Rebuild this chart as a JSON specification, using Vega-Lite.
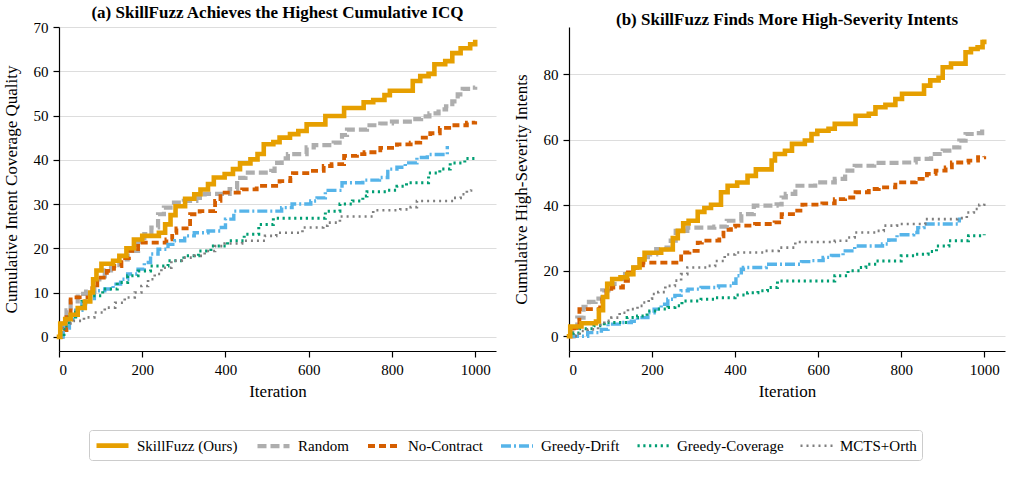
{
  "$schema": "https://vega.github.io/schema/vega-lite/v6.json",
  "padding": {"left": 2, "right": 2, "top": 4, "bottom": 0},
  "background": "#ffffff",
  "data": {
    "values": [
      {"panel": "a", "method": "SkillFuzz (Ours)", "iteration": 0, "value": 0},
      {"panel": "a", "method": "SkillFuzz (Ours)", "iteration": 3, "value": 3},
      {"panel": "a", "method": "SkillFuzz (Ours)", "iteration": 15, "value": 4},
      {"panel": "a", "method": "SkillFuzz (Ours)", "iteration": 28, "value": 5},
      {"panel": "a", "method": "SkillFuzz (Ours)", "iteration": 45, "value": 6.5},
      {"panel": "a", "method": "SkillFuzz (Ours)", "iteration": 62, "value": 8},
      {"panel": "a", "method": "SkillFuzz (Ours)", "iteration": 75, "value": 10},
      {"panel": "a", "method": "SkillFuzz (Ours)", "iteration": 82, "value": 13},
      {"panel": "a", "method": "SkillFuzz (Ours)", "iteration": 90, "value": 15},
      {"panel": "a", "method": "SkillFuzz (Ours)", "iteration": 102, "value": 16.5},
      {"panel": "a", "method": "SkillFuzz (Ours)", "iteration": 130, "value": 17.2},
      {"panel": "a", "method": "SkillFuzz (Ours)", "iteration": 145, "value": 18.3},
      {"panel": "a", "method": "SkillFuzz (Ours)", "iteration": 162, "value": 20},
      {"panel": "a", "method": "SkillFuzz (Ours)", "iteration": 180, "value": 22},
      {"panel": "a", "method": "SkillFuzz (Ours)", "iteration": 200, "value": 22.8},
      {"panel": "a", "method": "SkillFuzz (Ours)", "iteration": 240, "value": 23.5},
      {"panel": "a", "method": "SkillFuzz (Ours)", "iteration": 255, "value": 25.4},
      {"panel": "a", "method": "SkillFuzz (Ours)", "iteration": 268, "value": 27.5},
      {"panel": "a", "method": "SkillFuzz (Ours)", "iteration": 280, "value": 29.5},
      {"panel": "a", "method": "SkillFuzz (Ours)", "iteration": 303, "value": 31.2},
      {"panel": "a", "method": "SkillFuzz (Ours)", "iteration": 325, "value": 32.2},
      {"panel": "a", "method": "SkillFuzz (Ours)", "iteration": 340, "value": 33.3},
      {"panel": "a", "method": "SkillFuzz (Ours)", "iteration": 358, "value": 34.5},
      {"panel": "a", "method": "SkillFuzz (Ours)", "iteration": 372, "value": 36},
      {"panel": "a", "method": "SkillFuzz (Ours)", "iteration": 398, "value": 36.8},
      {"panel": "a", "method": "SkillFuzz (Ours)", "iteration": 418, "value": 37.9},
      {"panel": "a", "method": "SkillFuzz (Ours)", "iteration": 435, "value": 39.2},
      {"panel": "a", "method": "SkillFuzz (Ours)", "iteration": 460, "value": 40.1},
      {"panel": "a", "method": "SkillFuzz (Ours)", "iteration": 477, "value": 41.3},
      {"panel": "a", "method": "SkillFuzz (Ours)", "iteration": 492, "value": 43.5},
      {"panel": "a", "method": "SkillFuzz (Ours)", "iteration": 515, "value": 44},
      {"panel": "a", "method": "SkillFuzz (Ours)", "iteration": 530, "value": 45},
      {"panel": "a", "method": "SkillFuzz (Ours)", "iteration": 555, "value": 45.8},
      {"panel": "a", "method": "SkillFuzz (Ours)", "iteration": 575, "value": 46.5},
      {"panel": "a", "method": "SkillFuzz (Ours)", "iteration": 595, "value": 48},
      {"panel": "a", "method": "SkillFuzz (Ours)", "iteration": 640, "value": 49.9},
      {"panel": "a", "method": "SkillFuzz (Ours)", "iteration": 685, "value": 51.7},
      {"panel": "a", "method": "SkillFuzz (Ours)", "iteration": 732, "value": 53},
      {"panel": "a", "method": "SkillFuzz (Ours)", "iteration": 755, "value": 53.5},
      {"panel": "a", "method": "SkillFuzz (Ours)", "iteration": 782, "value": 54.6},
      {"panel": "a", "method": "SkillFuzz (Ours)", "iteration": 795, "value": 55.6},
      {"panel": "a", "method": "SkillFuzz (Ours)", "iteration": 850, "value": 57.8},
      {"panel": "a", "method": "SkillFuzz (Ours)", "iteration": 868, "value": 58.9},
      {"panel": "a", "method": "SkillFuzz (Ours)", "iteration": 888, "value": 59.4},
      {"panel": "a", "method": "SkillFuzz (Ours)", "iteration": 902, "value": 61.6},
      {"panel": "a", "method": "SkillFuzz (Ours)", "iteration": 928, "value": 62.3},
      {"panel": "a", "method": "SkillFuzz (Ours)", "iteration": 945, "value": 64.1},
      {"panel": "a", "method": "SkillFuzz (Ours)", "iteration": 965, "value": 65.2},
      {"panel": "a", "method": "SkillFuzz (Ours)", "iteration": 988, "value": 66.1},
      {"panel": "a", "method": "SkillFuzz (Ours)", "iteration": 1000, "value": 66.6},

      {"panel": "a", "method": "Random", "iteration": 0, "value": 0},
      {"panel": "a", "method": "Random", "iteration": 8, "value": 3},
      {"panel": "a", "method": "Random", "iteration": 18, "value": 6},
      {"panel": "a", "method": "Random", "iteration": 28, "value": 8},
      {"panel": "a", "method": "Random", "iteration": 45, "value": 9.7},
      {"panel": "a", "method": "Random", "iteration": 65, "value": 10.2},
      {"panel": "a", "method": "Random", "iteration": 85, "value": 13},
      {"panel": "a", "method": "Random", "iteration": 110, "value": 15},
      {"panel": "a", "method": "Random", "iteration": 125, "value": 15.6},
      {"panel": "a", "method": "Random", "iteration": 145, "value": 17.5},
      {"panel": "a", "method": "Random", "iteration": 165, "value": 19.4},
      {"panel": "a", "method": "Random", "iteration": 190, "value": 21.5},
      {"panel": "a", "method": "Random", "iteration": 205, "value": 23.2},
      {"panel": "a", "method": "Random", "iteration": 222, "value": 24.7},
      {"panel": "a", "method": "Random", "iteration": 238, "value": 27.7},
      {"panel": "a", "method": "Random", "iteration": 252, "value": 29.2},
      {"panel": "a", "method": "Random", "iteration": 268, "value": 30.3},
      {"panel": "a", "method": "Random", "iteration": 300, "value": 30.7},
      {"panel": "a", "method": "Random", "iteration": 330, "value": 31.4},
      {"panel": "a", "method": "Random", "iteration": 350, "value": 32.3},
      {"panel": "a", "method": "Random", "iteration": 410, "value": 33.4},
      {"panel": "a", "method": "Random", "iteration": 428, "value": 35.9},
      {"panel": "a", "method": "Random", "iteration": 448, "value": 37.1},
      {"panel": "a", "method": "Random", "iteration": 510, "value": 37.5},
      {"panel": "a", "method": "Random", "iteration": 518, "value": 39.3},
      {"panel": "a", "method": "Random", "iteration": 535, "value": 40.3},
      {"panel": "a", "method": "Random", "iteration": 550, "value": 41.3},
      {"panel": "a", "method": "Random", "iteration": 595, "value": 42.8},
      {"panel": "a", "method": "Random", "iteration": 612, "value": 43.3},
      {"panel": "a", "method": "Random", "iteration": 660, "value": 43.9},
      {"panel": "a", "method": "Random", "iteration": 680, "value": 45.6},
      {"panel": "a", "method": "Random", "iteration": 692, "value": 46.8},
      {"panel": "a", "method": "Random", "iteration": 740, "value": 47.8},
      {"panel": "a", "method": "Random", "iteration": 772, "value": 48.2},
      {"panel": "a", "method": "Random", "iteration": 800, "value": 48.6},
      {"panel": "a", "method": "Random", "iteration": 850, "value": 49.2},
      {"panel": "a", "method": "Random", "iteration": 870, "value": 49.8},
      {"panel": "a", "method": "Random", "iteration": 890, "value": 50.5},
      {"panel": "a", "method": "Random", "iteration": 912, "value": 51.4},
      {"panel": "a", "method": "Random", "iteration": 930, "value": 52.1},
      {"panel": "a", "method": "Random", "iteration": 945, "value": 53.2},
      {"panel": "a", "method": "Random", "iteration": 958, "value": 54.8},
      {"panel": "a", "method": "Random", "iteration": 970, "value": 56},
      {"panel": "a", "method": "Random", "iteration": 990, "value": 56.3},
      {"panel": "a", "method": "Random", "iteration": 1000, "value": 56.5},

      {"panel": "a", "method": "No-Contract", "iteration": 0, "value": 0},
      {"panel": "a", "method": "No-Contract", "iteration": 5, "value": 1.5},
      {"panel": "a", "method": "No-Contract", "iteration": 18, "value": 5},
      {"panel": "a", "method": "No-Contract", "iteration": 28, "value": 8.9},
      {"panel": "a", "method": "No-Contract", "iteration": 75, "value": 9.5},
      {"panel": "a", "method": "No-Contract", "iteration": 80, "value": 11},
      {"panel": "a", "method": "No-Contract", "iteration": 92, "value": 13.4},
      {"panel": "a", "method": "No-Contract", "iteration": 115, "value": 14.9},
      {"panel": "a", "method": "No-Contract", "iteration": 132, "value": 16},
      {"panel": "a", "method": "No-Contract", "iteration": 150, "value": 17.8},
      {"panel": "a", "method": "No-Contract", "iteration": 168, "value": 19.4},
      {"panel": "a", "method": "No-Contract", "iteration": 190, "value": 21.3},
      {"panel": "a", "method": "No-Contract", "iteration": 258, "value": 22},
      {"panel": "a", "method": "No-Contract", "iteration": 272, "value": 23.5},
      {"panel": "a", "method": "No-Contract", "iteration": 282, "value": 24.5},
      {"panel": "a", "method": "No-Contract", "iteration": 315, "value": 27.7},
      {"panel": "a", "method": "No-Contract", "iteration": 338, "value": 28.4},
      {"panel": "a", "method": "No-Contract", "iteration": 375, "value": 30.7},
      {"panel": "a", "method": "No-Contract", "iteration": 388, "value": 31.8},
      {"panel": "a", "method": "No-Contract", "iteration": 398, "value": 32.6},
      {"panel": "a", "method": "No-Contract", "iteration": 440, "value": 33.3},
      {"panel": "a", "method": "No-Contract", "iteration": 475, "value": 34.1},
      {"panel": "a", "method": "No-Contract", "iteration": 530, "value": 35.2},
      {"panel": "a", "method": "No-Contract", "iteration": 556, "value": 35.9},
      {"panel": "a", "method": "No-Contract", "iteration": 562, "value": 37},
      {"panel": "a", "method": "No-Contract", "iteration": 604, "value": 37.5},
      {"panel": "a", "method": "No-Contract", "iteration": 636, "value": 38.6},
      {"panel": "a", "method": "No-Contract", "iteration": 655, "value": 39},
      {"panel": "a", "method": "No-Contract", "iteration": 685, "value": 40.9},
      {"panel": "a", "method": "No-Contract", "iteration": 716, "value": 41.3},
      {"panel": "a", "method": "No-Contract", "iteration": 734, "value": 41.7},
      {"panel": "a", "method": "No-Contract", "iteration": 772, "value": 42.7},
      {"panel": "a", "method": "No-Contract", "iteration": 812, "value": 43.5},
      {"panel": "a", "method": "No-Contract", "iteration": 845, "value": 43.9},
      {"panel": "a", "method": "No-Contract", "iteration": 868, "value": 45},
      {"panel": "a", "method": "No-Contract", "iteration": 892, "value": 46},
      {"panel": "a", "method": "No-Contract", "iteration": 915, "value": 47.2},
      {"panel": "a", "method": "No-Contract", "iteration": 950, "value": 47.8},
      {"panel": "a", "method": "No-Contract", "iteration": 980, "value": 48.4},
      {"panel": "a", "method": "No-Contract", "iteration": 1000, "value": 48.7},

      {"panel": "a", "method": "Greedy-Drift", "iteration": 0, "value": 0},
      {"panel": "a", "method": "Greedy-Drift", "iteration": 10, "value": 2},
      {"panel": "a", "method": "Greedy-Drift", "iteration": 25, "value": 4},
      {"panel": "a", "method": "Greedy-Drift", "iteration": 40, "value": 6},
      {"panel": "a", "method": "Greedy-Drift", "iteration": 55, "value": 7.5},
      {"panel": "a", "method": "Greedy-Drift", "iteration": 64, "value": 8.1},
      {"panel": "a", "method": "Greedy-Drift", "iteration": 85, "value": 10.4},
      {"panel": "a", "method": "Greedy-Drift", "iteration": 110, "value": 10.8},
      {"panel": "a", "method": "Greedy-Drift", "iteration": 130, "value": 11.9},
      {"panel": "a", "method": "Greedy-Drift", "iteration": 148, "value": 13},
      {"panel": "a", "method": "Greedy-Drift", "iteration": 165, "value": 14.2},
      {"panel": "a", "method": "Greedy-Drift", "iteration": 190, "value": 15.3},
      {"panel": "a", "method": "Greedy-Drift", "iteration": 205, "value": 16.8},
      {"panel": "a", "method": "Greedy-Drift", "iteration": 220, "value": 18.7},
      {"panel": "a", "method": "Greedy-Drift", "iteration": 238, "value": 19.8},
      {"panel": "a", "method": "Greedy-Drift", "iteration": 262, "value": 20.9},
      {"panel": "a", "method": "Greedy-Drift", "iteration": 278, "value": 21.7},
      {"panel": "a", "method": "Greedy-Drift", "iteration": 302, "value": 22.8},
      {"panel": "a", "method": "Greedy-Drift", "iteration": 325, "value": 23.5},
      {"panel": "a", "method": "Greedy-Drift", "iteration": 358, "value": 23.9},
      {"panel": "a", "method": "Greedy-Drift", "iteration": 390, "value": 24.7},
      {"panel": "a", "method": "Greedy-Drift", "iteration": 400, "value": 26.6},
      {"panel": "a", "method": "Greedy-Drift", "iteration": 420, "value": 28.4},
      {"panel": "a", "method": "Greedy-Drift", "iteration": 535, "value": 29.2},
      {"panel": "a", "method": "Greedy-Drift", "iteration": 560, "value": 30},
      {"panel": "a", "method": "Greedy-Drift", "iteration": 605, "value": 30.7},
      {"panel": "a", "method": "Greedy-Drift", "iteration": 620, "value": 31.4},
      {"panel": "a", "method": "Greedy-Drift", "iteration": 640, "value": 33.1},
      {"panel": "a", "method": "Greedy-Drift", "iteration": 680, "value": 34.8},
      {"panel": "a", "method": "Greedy-Drift", "iteration": 730, "value": 35.4},
      {"panel": "a", "method": "Greedy-Drift", "iteration": 770, "value": 36},
      {"panel": "a", "method": "Greedy-Drift", "iteration": 790, "value": 37.9},
      {"panel": "a", "method": "Greedy-Drift", "iteration": 812, "value": 38.3},
      {"panel": "a", "method": "Greedy-Drift", "iteration": 832, "value": 39.3},
      {"panel": "a", "method": "Greedy-Drift", "iteration": 860, "value": 40.5},
      {"panel": "a", "method": "Greedy-Drift", "iteration": 885, "value": 41.2},
      {"panel": "a", "method": "Greedy-Drift", "iteration": 933, "value": 43.1},

      {"panel": "a", "method": "Greedy-Coverage", "iteration": 0, "value": 0},
      {"panel": "a", "method": "Greedy-Coverage", "iteration": 12, "value": 2.5},
      {"panel": "a", "method": "Greedy-Coverage", "iteration": 25, "value": 4.5},
      {"panel": "a", "method": "Greedy-Coverage", "iteration": 40, "value": 6.5},
      {"panel": "a", "method": "Greedy-Coverage", "iteration": 55, "value": 8},
      {"panel": "a", "method": "Greedy-Coverage", "iteration": 75, "value": 9.3},
      {"panel": "a", "method": "Greedy-Coverage", "iteration": 105, "value": 10.8},
      {"panel": "a", "method": "Greedy-Coverage", "iteration": 140, "value": 12.3},
      {"panel": "a", "method": "Greedy-Coverage", "iteration": 165, "value": 13.8},
      {"panel": "a", "method": "Greedy-Coverage", "iteration": 190, "value": 14.9},
      {"panel": "a", "method": "Greedy-Coverage", "iteration": 220, "value": 16},
      {"panel": "a", "method": "Greedy-Coverage", "iteration": 262, "value": 17.2},
      {"panel": "a", "method": "Greedy-Coverage", "iteration": 300, "value": 18.3},
      {"panel": "a", "method": "Greedy-Coverage", "iteration": 335, "value": 19.4},
      {"panel": "a", "method": "Greedy-Coverage", "iteration": 365, "value": 20.5},
      {"panel": "a", "method": "Greedy-Coverage", "iteration": 405, "value": 21.7},
      {"panel": "a", "method": "Greedy-Coverage", "iteration": 445, "value": 23.2},
      {"panel": "a", "method": "Greedy-Coverage", "iteration": 480, "value": 25.4},
      {"panel": "a", "method": "Greedy-Coverage", "iteration": 515, "value": 26.8},
      {"panel": "a", "method": "Greedy-Coverage", "iteration": 640, "value": 28.4},
      {"panel": "a", "method": "Greedy-Coverage", "iteration": 675, "value": 30},
      {"panel": "a", "method": "Greedy-Coverage", "iteration": 705, "value": 30.7},
      {"panel": "a", "method": "Greedy-Coverage", "iteration": 730, "value": 31.8},
      {"panel": "a", "method": "Greedy-Coverage", "iteration": 740, "value": 32.8},
      {"panel": "a", "method": "Greedy-Coverage", "iteration": 788, "value": 33.1},
      {"panel": "a", "method": "Greedy-Coverage", "iteration": 812, "value": 34},
      {"panel": "a", "method": "Greedy-Coverage", "iteration": 835, "value": 34.8},
      {"panel": "a", "method": "Greedy-Coverage", "iteration": 888, "value": 37},
      {"panel": "a", "method": "Greedy-Coverage", "iteration": 915, "value": 37.9},
      {"panel": "a", "method": "Greedy-Coverage", "iteration": 940, "value": 39.3},
      {"panel": "a", "method": "Greedy-Coverage", "iteration": 975, "value": 40.3},
      {"panel": "a", "method": "Greedy-Coverage", "iteration": 1000, "value": 40.5},

      {"panel": "a", "method": "MCTS+Orth", "iteration": 0, "value": 0},
      {"panel": "a", "method": "MCTS+Orth", "iteration": 5, "value": 2},
      {"panel": "a", "method": "MCTS+Orth", "iteration": 15, "value": 3},
      {"panel": "a", "method": "MCTS+Orth", "iteration": 35, "value": 3.6},
      {"panel": "a", "method": "MCTS+Orth", "iteration": 60, "value": 4.4},
      {"panel": "a", "method": "MCTS+Orth", "iteration": 85, "value": 5.5},
      {"panel": "a", "method": "MCTS+Orth", "iteration": 110, "value": 6.6},
      {"panel": "a", "method": "MCTS+Orth", "iteration": 135, "value": 7.7},
      {"panel": "a", "method": "MCTS+Orth", "iteration": 158, "value": 8.9},
      {"panel": "a", "method": "MCTS+Orth", "iteration": 182, "value": 10},
      {"panel": "a", "method": "MCTS+Orth", "iteration": 198, "value": 11.5},
      {"panel": "a", "method": "MCTS+Orth", "iteration": 214, "value": 13},
      {"panel": "a", "method": "MCTS+Orth", "iteration": 230, "value": 14.2},
      {"panel": "a", "method": "MCTS+Orth", "iteration": 246, "value": 15.6},
      {"panel": "a", "method": "MCTS+Orth", "iteration": 270, "value": 17.2},
      {"panel": "a", "method": "MCTS+Orth", "iteration": 295, "value": 17.9},
      {"panel": "a", "method": "MCTS+Orth", "iteration": 325, "value": 18.3},
      {"panel": "a", "method": "MCTS+Orth", "iteration": 350, "value": 19.4},
      {"panel": "a", "method": "MCTS+Orth", "iteration": 375, "value": 20.5},
      {"panel": "a", "method": "MCTS+Orth", "iteration": 398, "value": 21.1},
      {"panel": "a", "method": "MCTS+Orth", "iteration": 440, "value": 21.7},
      {"panel": "a", "method": "MCTS+Orth", "iteration": 495, "value": 22.8},
      {"panel": "a", "method": "MCTS+Orth", "iteration": 522, "value": 23.5},
      {"panel": "a", "method": "MCTS+Orth", "iteration": 585, "value": 24.7},
      {"panel": "a", "method": "MCTS+Orth", "iteration": 635, "value": 25.1},
      {"panel": "a", "method": "MCTS+Orth", "iteration": 645, "value": 25.8},
      {"panel": "a", "method": "MCTS+Orth", "iteration": 675, "value": 27.2},
      {"panel": "a", "method": "MCTS+Orth", "iteration": 755, "value": 28.6},
      {"panel": "a", "method": "MCTS+Orth", "iteration": 820, "value": 28.8},
      {"panel": "a", "method": "MCTS+Orth", "iteration": 845, "value": 29.3},
      {"panel": "a", "method": "MCTS+Orth", "iteration": 860, "value": 30.7},
      {"panel": "a", "method": "MCTS+Orth", "iteration": 948, "value": 31.4},
      {"panel": "a", "method": "MCTS+Orth", "iteration": 965, "value": 32.2},
      {"panel": "a", "method": "MCTS+Orth", "iteration": 980, "value": 33.1},
      {"panel": "a", "method": "MCTS+Orth", "iteration": 990, "value": 33.3},

      {"panel": "b", "method": "SkillFuzz (Ours)", "iteration": 0, "value": 0},
      {"panel": "b", "method": "SkillFuzz (Ours)", "iteration": 3, "value": 3},
      {"panel": "b", "method": "SkillFuzz (Ours)", "iteration": 30, "value": 4},
      {"panel": "b", "method": "SkillFuzz (Ours)", "iteration": 65, "value": 4.5},
      {"panel": "b", "method": "SkillFuzz (Ours)", "iteration": 72, "value": 8},
      {"panel": "b", "method": "SkillFuzz (Ours)", "iteration": 82, "value": 12},
      {"panel": "b", "method": "SkillFuzz (Ours)", "iteration": 92, "value": 16},
      {"panel": "b", "method": "SkillFuzz (Ours)", "iteration": 104, "value": 17.5},
      {"panel": "b", "method": "SkillFuzz (Ours)", "iteration": 124, "value": 18},
      {"panel": "b", "method": "SkillFuzz (Ours)", "iteration": 140, "value": 19},
      {"panel": "b", "method": "SkillFuzz (Ours)", "iteration": 155, "value": 21},
      {"panel": "b", "method": "SkillFuzz (Ours)", "iteration": 170, "value": 23.5},
      {"panel": "b", "method": "SkillFuzz (Ours)", "iteration": 182, "value": 25.5},
      {"panel": "b", "method": "SkillFuzz (Ours)", "iteration": 222, "value": 26.5},
      {"panel": "b", "method": "SkillFuzz (Ours)", "iteration": 250, "value": 30},
      {"panel": "b", "method": "SkillFuzz (Ours)", "iteration": 262, "value": 32.2},
      {"panel": "b", "method": "SkillFuzz (Ours)", "iteration": 275, "value": 34.5},
      {"panel": "b", "method": "SkillFuzz (Ours)", "iteration": 288, "value": 35.3},
      {"panel": "b", "method": "SkillFuzz (Ours)", "iteration": 310, "value": 38},
      {"panel": "b", "method": "SkillFuzz (Ours)", "iteration": 326, "value": 39.2},
      {"panel": "b", "method": "SkillFuzz (Ours)", "iteration": 342, "value": 40.2},
      {"panel": "b", "method": "SkillFuzz (Ours)", "iteration": 366, "value": 44},
      {"panel": "b", "method": "SkillFuzz (Ours)", "iteration": 382, "value": 46},
      {"panel": "b", "method": "SkillFuzz (Ours)", "iteration": 405, "value": 47},
      {"panel": "b", "method": "SkillFuzz (Ours)", "iteration": 430, "value": 49},
      {"panel": "b", "method": "SkillFuzz (Ours)", "iteration": 450, "value": 51},
      {"panel": "b", "method": "SkillFuzz (Ours)", "iteration": 488, "value": 53.7},
      {"panel": "b", "method": "SkillFuzz (Ours)", "iteration": 496, "value": 55.7},
      {"panel": "b", "method": "SkillFuzz (Ours)", "iteration": 520, "value": 56.7},
      {"panel": "b", "method": "SkillFuzz (Ours)", "iteration": 537, "value": 58.8},
      {"panel": "b", "method": "SkillFuzz (Ours)", "iteration": 568, "value": 59.8},
      {"panel": "b", "method": "SkillFuzz (Ours)", "iteration": 584, "value": 61.8},
      {"panel": "b", "method": "SkillFuzz (Ours)", "iteration": 598, "value": 62.8},
      {"panel": "b", "method": "SkillFuzz (Ours)", "iteration": 625, "value": 63.4},
      {"panel": "b", "method": "SkillFuzz (Ours)", "iteration": 640, "value": 64.9},
      {"panel": "b", "method": "SkillFuzz (Ours)", "iteration": 690, "value": 67.4},
      {"panel": "b", "method": "SkillFuzz (Ours)", "iteration": 722, "value": 68},
      {"panel": "b", "method": "SkillFuzz (Ours)", "iteration": 738, "value": 70},
      {"panel": "b", "method": "SkillFuzz (Ours)", "iteration": 762, "value": 70.7},
      {"panel": "b", "method": "SkillFuzz (Ours)", "iteration": 786, "value": 72.5},
      {"panel": "b", "method": "SkillFuzz (Ours)", "iteration": 802, "value": 74.1},
      {"panel": "b", "method": "SkillFuzz (Ours)", "iteration": 855, "value": 76.6},
      {"panel": "b", "method": "SkillFuzz (Ours)", "iteration": 870, "value": 78.2},
      {"panel": "b", "method": "SkillFuzz (Ours)", "iteration": 890, "value": 79},
      {"panel": "b", "method": "SkillFuzz (Ours)", "iteration": 900, "value": 82.2},
      {"panel": "b", "method": "SkillFuzz (Ours)", "iteration": 920, "value": 83.3},
      {"panel": "b", "method": "SkillFuzz (Ours)", "iteration": 955, "value": 86.8},
      {"panel": "b", "method": "SkillFuzz (Ours)", "iteration": 968, "value": 87.8},
      {"panel": "b", "method": "SkillFuzz (Ours)", "iteration": 984, "value": 88.3},
      {"panel": "b", "method": "SkillFuzz (Ours)", "iteration": 996, "value": 89.9},
      {"panel": "b", "method": "SkillFuzz (Ours)", "iteration": 1000, "value": 90},

      {"panel": "b", "method": "Random", "iteration": 0, "value": 0},
      {"panel": "b", "method": "Random", "iteration": 8, "value": 2.6},
      {"panel": "b", "method": "Random", "iteration": 20, "value": 5.7},
      {"panel": "b", "method": "Random", "iteration": 35, "value": 9},
      {"panel": "b", "method": "Random", "iteration": 48, "value": 10.5},
      {"panel": "b", "method": "Random", "iteration": 64, "value": 11.5},
      {"panel": "b", "method": "Random", "iteration": 80, "value": 14},
      {"panel": "b", "method": "Random", "iteration": 95, "value": 16},
      {"panel": "b", "method": "Random", "iteration": 115, "value": 17.5},
      {"panel": "b", "method": "Random", "iteration": 135, "value": 19},
      {"panel": "b", "method": "Random", "iteration": 155, "value": 21},
      {"panel": "b", "method": "Random", "iteration": 170, "value": 23.5},
      {"panel": "b", "method": "Random", "iteration": 190, "value": 25},
      {"panel": "b", "method": "Random", "iteration": 210, "value": 26.6},
      {"panel": "b", "method": "Random", "iteration": 235, "value": 27.1},
      {"panel": "b", "method": "Random", "iteration": 245, "value": 29.2},
      {"panel": "b", "method": "Random", "iteration": 257, "value": 32.2},
      {"panel": "b", "method": "Random", "iteration": 285, "value": 33.2},
      {"panel": "b", "method": "Random", "iteration": 350, "value": 33.5},
      {"panel": "b", "method": "Random", "iteration": 380, "value": 35.3},
      {"panel": "b", "method": "Random", "iteration": 415, "value": 37.3},
      {"panel": "b", "method": "Random", "iteration": 445, "value": 39.9},
      {"panel": "b", "method": "Random", "iteration": 500, "value": 40.3},
      {"panel": "b", "method": "Random", "iteration": 512, "value": 42.4},
      {"panel": "b", "method": "Random", "iteration": 522, "value": 43.5},
      {"panel": "b", "method": "Random", "iteration": 545, "value": 46},
      {"panel": "b", "method": "Random", "iteration": 593, "value": 47},
      {"panel": "b", "method": "Random", "iteration": 640, "value": 48.1},
      {"panel": "b", "method": "Random", "iteration": 665, "value": 50.6},
      {"panel": "b", "method": "Random", "iteration": 688, "value": 52.1},
      {"panel": "b", "method": "Random", "iteration": 735, "value": 53},
      {"panel": "b", "method": "Random", "iteration": 800, "value": 53.1},
      {"panel": "b", "method": "Random", "iteration": 835, "value": 54.2},
      {"panel": "b", "method": "Random", "iteration": 872, "value": 55.7},
      {"panel": "b", "method": "Random", "iteration": 900, "value": 56.7},
      {"panel": "b", "method": "Random", "iteration": 922, "value": 57.7},
      {"panel": "b", "method": "Random", "iteration": 940, "value": 59.8},
      {"panel": "b", "method": "Random", "iteration": 955, "value": 61.8},
      {"panel": "b", "method": "Random", "iteration": 980, "value": 62.1},
      {"panel": "b", "method": "Random", "iteration": 995, "value": 63.4},
      {"panel": "b", "method": "Random", "iteration": 1000, "value": 63.6},

      {"panel": "b", "method": "No-Contract", "iteration": 0, "value": 0},
      {"panel": "b", "method": "No-Contract", "iteration": 12, "value": 2.6},
      {"panel": "b", "method": "No-Contract", "iteration": 25, "value": 8.3},
      {"panel": "b", "method": "No-Contract", "iteration": 75, "value": 9.5},
      {"panel": "b", "method": "No-Contract", "iteration": 80, "value": 11.3},
      {"panel": "b", "method": "No-Contract", "iteration": 90, "value": 13.9},
      {"panel": "b", "method": "No-Contract", "iteration": 102, "value": 14.9},
      {"panel": "b", "method": "No-Contract", "iteration": 130, "value": 16.9},
      {"panel": "b", "method": "No-Contract", "iteration": 142, "value": 19.5},
      {"panel": "b", "method": "No-Contract", "iteration": 158, "value": 21},
      {"panel": "b", "method": "No-Contract", "iteration": 178, "value": 22.5},
      {"panel": "b", "method": "No-Contract", "iteration": 270, "value": 25.6},
      {"panel": "b", "method": "No-Contract", "iteration": 290, "value": 26.1},
      {"panel": "b", "method": "No-Contract", "iteration": 310, "value": 28.6},
      {"panel": "b", "method": "No-Contract", "iteration": 320, "value": 29.2},
      {"panel": "b", "method": "No-Contract", "iteration": 362, "value": 30.5},
      {"panel": "b", "method": "No-Contract", "iteration": 372, "value": 32.5},
      {"panel": "b", "method": "No-Contract", "iteration": 390, "value": 33.5},
      {"panel": "b", "method": "No-Contract", "iteration": 400, "value": 33.8},
      {"panel": "b", "method": "No-Contract", "iteration": 448, "value": 34.3},
      {"panel": "b", "method": "No-Contract", "iteration": 495, "value": 34.8},
      {"panel": "b", "method": "No-Contract", "iteration": 512, "value": 37.3},
      {"panel": "b", "method": "No-Contract", "iteration": 545, "value": 38.4},
      {"panel": "b", "method": "No-Contract", "iteration": 562, "value": 40.2},
      {"panel": "b", "method": "No-Contract", "iteration": 610, "value": 40.6},
      {"panel": "b", "method": "No-Contract", "iteration": 640, "value": 41.9},
      {"panel": "b", "method": "No-Contract", "iteration": 665, "value": 42.4},
      {"panel": "b", "method": "No-Contract", "iteration": 690, "value": 44},
      {"panel": "b", "method": "No-Contract", "iteration": 722, "value": 45},
      {"panel": "b", "method": "No-Contract", "iteration": 746, "value": 45.5},
      {"panel": "b", "method": "No-Contract", "iteration": 786, "value": 47},
      {"panel": "b", "method": "No-Contract", "iteration": 835, "value": 48.1},
      {"panel": "b", "method": "No-Contract", "iteration": 862, "value": 49.6},
      {"panel": "b", "method": "No-Contract", "iteration": 883, "value": 50.6},
      {"panel": "b", "method": "No-Contract", "iteration": 907, "value": 51.6},
      {"panel": "b", "method": "No-Contract", "iteration": 922, "value": 53.1},
      {"panel": "b", "method": "No-Contract", "iteration": 962, "value": 53.7},
      {"panel": "b", "method": "No-Contract", "iteration": 985, "value": 54.7},
      {"panel": "b", "method": "No-Contract", "iteration": 1000, "value": 55},

      {"panel": "b", "method": "Greedy-Drift", "iteration": 0, "value": 0},
      {"panel": "b", "method": "Greedy-Drift", "iteration": 45, "value": 1.1},
      {"panel": "b", "method": "Greedy-Drift", "iteration": 78, "value": 2.1},
      {"panel": "b", "method": "Greedy-Drift", "iteration": 94, "value": 3.7},
      {"panel": "b", "method": "Greedy-Drift", "iteration": 125, "value": 4.2},
      {"panel": "b", "method": "Greedy-Drift", "iteration": 150, "value": 4.6},
      {"panel": "b", "method": "Greedy-Drift", "iteration": 165, "value": 5.7},
      {"panel": "b", "method": "Greedy-Drift", "iteration": 190, "value": 7.2},
      {"panel": "b", "method": "Greedy-Drift", "iteration": 205, "value": 8.3},
      {"panel": "b", "method": "Greedy-Drift", "iteration": 222, "value": 9.8},
      {"panel": "b", "method": "Greedy-Drift", "iteration": 238, "value": 11.3},
      {"panel": "b", "method": "Greedy-Drift", "iteration": 255, "value": 12.5},
      {"panel": "b", "method": "Greedy-Drift", "iteration": 270, "value": 13.9},
      {"panel": "b", "method": "Greedy-Drift", "iteration": 287, "value": 14.4},
      {"panel": "b", "method": "Greedy-Drift", "iteration": 318, "value": 14.9},
      {"panel": "b", "method": "Greedy-Drift", "iteration": 360, "value": 15.4},
      {"panel": "b", "method": "Greedy-Drift", "iteration": 392, "value": 16.2},
      {"panel": "b", "method": "Greedy-Drift", "iteration": 402, "value": 18.5},
      {"panel": "b", "method": "Greedy-Drift", "iteration": 415, "value": 20.5},
      {"panel": "b", "method": "Greedy-Drift", "iteration": 420, "value": 21},
      {"panel": "b", "method": "Greedy-Drift", "iteration": 475, "value": 22},
      {"panel": "b", "method": "Greedy-Drift", "iteration": 560, "value": 22.8},
      {"panel": "b", "method": "Greedy-Drift", "iteration": 585, "value": 23.1},
      {"panel": "b", "method": "Greedy-Drift", "iteration": 612, "value": 24.1},
      {"panel": "b", "method": "Greedy-Drift", "iteration": 632, "value": 24.7},
      {"panel": "b", "method": "Greedy-Drift", "iteration": 660, "value": 26.1},
      {"panel": "b", "method": "Greedy-Drift", "iteration": 688, "value": 27.6},
      {"panel": "b", "method": "Greedy-Drift", "iteration": 755, "value": 28.2},
      {"panel": "b", "method": "Greedy-Drift", "iteration": 770, "value": 29.4},
      {"panel": "b", "method": "Greedy-Drift", "iteration": 790, "value": 31},
      {"panel": "b", "method": "Greedy-Drift", "iteration": 830, "value": 31.7},
      {"panel": "b", "method": "Greedy-Drift", "iteration": 840, "value": 33.2},
      {"panel": "b", "method": "Greedy-Drift", "iteration": 855, "value": 34.3},
      {"panel": "b", "method": "Greedy-Drift", "iteration": 940, "value": 36.3},

      {"panel": "b", "method": "Greedy-Coverage", "iteration": 0, "value": 0},
      {"panel": "b", "method": "Greedy-Coverage", "iteration": 10, "value": 1},
      {"panel": "b", "method": "Greedy-Coverage", "iteration": 25, "value": 2.3},
      {"panel": "b", "method": "Greedy-Coverage", "iteration": 60, "value": 3.2},
      {"panel": "b", "method": "Greedy-Coverage", "iteration": 85, "value": 4.2},
      {"panel": "b", "method": "Greedy-Coverage", "iteration": 140, "value": 5.7},
      {"panel": "b", "method": "Greedy-Coverage", "iteration": 165, "value": 6.2},
      {"panel": "b", "method": "Greedy-Coverage", "iteration": 188, "value": 7.7},
      {"panel": "b", "method": "Greedy-Coverage", "iteration": 212, "value": 8.3},
      {"panel": "b", "method": "Greedy-Coverage", "iteration": 238, "value": 8.8},
      {"panel": "b", "method": "Greedy-Coverage", "iteration": 255, "value": 9.3},
      {"panel": "b", "method": "Greedy-Coverage", "iteration": 272, "value": 10.8},
      {"panel": "b", "method": "Greedy-Coverage", "iteration": 318, "value": 11.3},
      {"panel": "b", "method": "Greedy-Coverage", "iteration": 350, "value": 11.8},
      {"panel": "b", "method": "Greedy-Coverage", "iteration": 400, "value": 12.6},
      {"panel": "b", "method": "Greedy-Coverage", "iteration": 430, "value": 13.3},
      {"panel": "b", "method": "Greedy-Coverage", "iteration": 455, "value": 13.9},
      {"panel": "b", "method": "Greedy-Coverage", "iteration": 478, "value": 14.9},
      {"panel": "b", "method": "Greedy-Coverage", "iteration": 502, "value": 16.9},
      {"panel": "b", "method": "Greedy-Coverage", "iteration": 640, "value": 18.5},
      {"panel": "b", "method": "Greedy-Coverage", "iteration": 672, "value": 20},
      {"panel": "b", "method": "Greedy-Coverage", "iteration": 700, "value": 21},
      {"panel": "b", "method": "Greedy-Coverage", "iteration": 715, "value": 22},
      {"panel": "b", "method": "Greedy-Coverage", "iteration": 740, "value": 23},
      {"panel": "b", "method": "Greedy-Coverage", "iteration": 800, "value": 24.6},
      {"panel": "b", "method": "Greedy-Coverage", "iteration": 835, "value": 25.1},
      {"panel": "b", "method": "Greedy-Coverage", "iteration": 865, "value": 25.9},
      {"panel": "b", "method": "Greedy-Coverage", "iteration": 885, "value": 27.6},
      {"panel": "b", "method": "Greedy-Coverage", "iteration": 915, "value": 29.2},
      {"panel": "b", "method": "Greedy-Coverage", "iteration": 962, "value": 30.7},
      {"panel": "b", "method": "Greedy-Coverage", "iteration": 1000, "value": 31.2},

      {"panel": "b", "method": "MCTS+Orth", "iteration": 0, "value": 0},
      {"panel": "b", "method": "MCTS+Orth", "iteration": 25, "value": 1.6},
      {"panel": "b", "method": "MCTS+Orth", "iteration": 45, "value": 2.1},
      {"panel": "b", "method": "MCTS+Orth", "iteration": 70, "value": 3.5},
      {"panel": "b", "method": "MCTS+Orth", "iteration": 85, "value": 4.7},
      {"panel": "b", "method": "MCTS+Orth", "iteration": 102, "value": 5.7},
      {"panel": "b", "method": "MCTS+Orth", "iteration": 122, "value": 7.2},
      {"panel": "b", "method": "MCTS+Orth", "iteration": 142, "value": 8.3},
      {"panel": "b", "method": "MCTS+Orth", "iteration": 165, "value": 9.3},
      {"panel": "b", "method": "MCTS+Orth", "iteration": 178, "value": 10.3},
      {"panel": "b", "method": "MCTS+Orth", "iteration": 192, "value": 11.5},
      {"panel": "b", "method": "MCTS+Orth", "iteration": 200, "value": 12.9},
      {"panel": "b", "method": "MCTS+Orth", "iteration": 215, "value": 13.5},
      {"panel": "b", "method": "MCTS+Orth", "iteration": 232, "value": 15.4},
      {"panel": "b", "method": "MCTS+Orth", "iteration": 255, "value": 17},
      {"panel": "b", "method": "MCTS+Orth", "iteration": 270, "value": 19},
      {"panel": "b", "method": "MCTS+Orth", "iteration": 285, "value": 21},
      {"panel": "b", "method": "MCTS+Orth", "iteration": 335, "value": 21.5},
      {"panel": "b", "method": "MCTS+Orth", "iteration": 352, "value": 23},
      {"panel": "b", "method": "MCTS+Orth", "iteration": 375, "value": 25},
      {"panel": "b", "method": "MCTS+Orth", "iteration": 400, "value": 25.6},
      {"panel": "b", "method": "MCTS+Orth", "iteration": 470, "value": 26.1},
      {"panel": "b", "method": "MCTS+Orth", "iteration": 505, "value": 27.1},
      {"panel": "b", "method": "MCTS+Orth", "iteration": 545, "value": 28.8},
      {"panel": "b", "method": "MCTS+Orth", "iteration": 640, "value": 29.2},
      {"panel": "b", "method": "MCTS+Orth", "iteration": 672, "value": 30.2},
      {"panel": "b", "method": "MCTS+Orth", "iteration": 688, "value": 31.7},
      {"panel": "b", "method": "MCTS+Orth", "iteration": 742, "value": 32.2},
      {"panel": "b", "method": "MCTS+Orth", "iteration": 758, "value": 33.8},
      {"panel": "b", "method": "MCTS+Orth", "iteration": 790, "value": 34.3},
      {"panel": "b", "method": "MCTS+Orth", "iteration": 858, "value": 35.8},
      {"panel": "b", "method": "MCTS+Orth", "iteration": 935, "value": 36.1},
      {"panel": "b", "method": "MCTS+Orth", "iteration": 958, "value": 37.8},
      {"panel": "b", "method": "MCTS+Orth", "iteration": 975, "value": 38.9},
      {"panel": "b", "method": "MCTS+Orth", "iteration": 988, "value": 40.2},
      {"panel": "b", "method": "MCTS+Orth", "iteration": 1000, "value": 40.5}
    ]
  },
  "spacing": 16,
  "hconcat": [
    {
      "title": "(a) SkillFuzz Achieves the Highest Cumulative ICQ",
      "width": 437,
      "height": 324,
      "transform": [{"filter": "datum.panel === 'a'"}],
      "encoding": {
        "x": {"field": "iteration", "type": "quantitative", "scale": {"domain": [0, 1050], "nice": false, "zero": false}, "axis": {"title": "Iteration", "values": [0, 200, 400, 600, 800, 1000], "format": "d", "grid": false}},
        "y": {"field": "value", "type": "quantitative", "scale": {"domain": [-3.2, 70], "nice": false, "zero": false}, "axis": {"title": "Cumulative Intent Coverage Quality", "values": [0, 10, 20, 30, 40, 50, 60, 70], "grid": true}},
        "color": {"field": "method", "type": "nominal", "scale": {"domain": ["SkillFuzz (Ours)", "Random", "No-Contract", "Greedy-Drift", "Greedy-Coverage", "MCTS+Orth"], "range": ["#E69F00", "#AEAEAE", "#D55E00", "#56B4E9", "#009E73", "#7F7F7F"]}, "legend": {"title": null}},
        "strokeDash": {"field": "method", "type": "nominal", "scale": {"domain": ["SkillFuzz (Ours)", "Random", "No-Contract", "Greedy-Drift", "Greedy-Coverage", "MCTS+Orth"], "range": [[1, 0], [9, 4], [7, 4], [10, 3, 2, 3], [2.2, 3.6], [2, 4]]}, "legend": {"title": null}},
        "strokeWidth": {"field": "method", "type": "nominal", "scale": {"domain": ["SkillFuzz (Ours)", "Random", "No-Contract", "Greedy-Drift", "Greedy-Coverage", "MCTS+Orth"], "range": [4.6, 2.6, 2.4, 2.2, 2.4, 2.2]}, "legend": {"title": null}}
      },
      "layer": [
        {"transform": [{"filter": "datum.method !== 'SkillFuzz (Ours)'"}], "mark": {"type": "line", "interpolate": "step-after", "strokeCap": "butt"}},
        {"transform": [{"filter": "datum.method === 'SkillFuzz (Ours)'"}], "mark": {"type": "line", "interpolate": "step-after", "strokeCap": "square", "strokeJoin": "miter"}}
      ]
    },
    {
      "title": "(b) SkillFuzz Finds More High-Severity Intents",
      "width": 436,
      "height": 324,
      "transform": [{"filter": "datum.panel === 'b'"}],
      "encoding": {
        "x": {"field": "iteration", "type": "quantitative", "scale": {"domain": [0, 1050], "nice": false, "zero": false}, "axis": {"title": "Iteration", "values": [0, 200, 400, 600, 800, 1000], "format": "d", "grid": false}},
        "y": {"field": "value", "type": "quantitative", "scale": {"domain": [-4.5, 94.5], "nice": false, "zero": false}, "axis": {"title": "Cumulative High-Severity Intents", "values": [0, 20, 40, 60, 80], "grid": true}},
        "color": {"field": "method", "type": "nominal", "scale": {"domain": ["SkillFuzz (Ours)", "Random", "No-Contract", "Greedy-Drift", "Greedy-Coverage", "MCTS+Orth"], "range": ["#E69F00", "#AEAEAE", "#D55E00", "#56B4E9", "#009E73", "#7F7F7F"]}, "legend": {"title": null}},
        "strokeDash": {"field": "method", "type": "nominal", "scale": {"domain": ["SkillFuzz (Ours)", "Random", "No-Contract", "Greedy-Drift", "Greedy-Coverage", "MCTS+Orth"], "range": [[1, 0], [9, 4], [7, 4], [10, 3, 2, 3], [2.2, 3.6], [2, 4]]}, "legend": {"title": null}},
        "strokeWidth": {"field": "method", "type": "nominal", "scale": {"domain": ["SkillFuzz (Ours)", "Random", "No-Contract", "Greedy-Drift", "Greedy-Coverage", "MCTS+Orth"], "range": [4.6, 2.6, 2.4, 2.2, 2.4, 2.2]}, "legend": {"title": null}}
      },
      "layer": [
        {"transform": [{"filter": "datum.method !== 'SkillFuzz (Ours)'"}], "mark": {"type": "line", "interpolate": "step-after", "strokeCap": "butt"}},
        {"transform": [{"filter": "datum.method === 'SkillFuzz (Ours)'"}], "mark": {"type": "line", "interpolate": "step-after", "strokeCap": "square", "strokeJoin": "miter"}}
      ]
    }
  ],
  "resolve": {
    "scale": {"color": "shared", "strokeDash": "shared", "strokeWidth": "shared"},
    "legend": {"color": "shared", "strokeDash": "shared", "strokeWidth": "shared"}
  },
  "config": {
    "font": "Liberation Serif",
    "view": {"stroke": null},
    "title": {"font": "Liberation Serif", "fontSize": 17, "fontWeight": "bold", "color": "#000000", "offset": -2, "anchor": "middle"},
    "axis": {
      "labelFont": "Liberation Serif", "labelFontSize": 15, "labelColor": "#000000", "labelPadding": 5,
      "titleFont": "Liberation Serif", "titleFontSize": 17, "titleFontWeight": "normal", "titleColor": "#000000",
      "domainColor": "#000000", "domainWidth": 1.2, "tickColor": "#000000", "tickWidth": 1.2, "tickSize": 6,
      "gridColor": "#dddddd", "gridWidth": 1
    },
    "axisX": {"titlePadding": 6},
    "axisY": {"titlePadding": 13},
    "legend": {
      "orient": "none", "direction": "horizontal", "legendX": 30, "legendY": 403,
      "symbolType": "M-1,0H3", "symbolSize": 256, "labelFont": "Liberation Serif", "labelFontSize": 15,
      "labelColor": "#000000", "labelOffset": 22, "columnPadding": 11,
      "strokeColor": "#cccccc", "cornerRadius": 3, "padding": 5, "fillColor": "#ffffff"
    }
  }
}
